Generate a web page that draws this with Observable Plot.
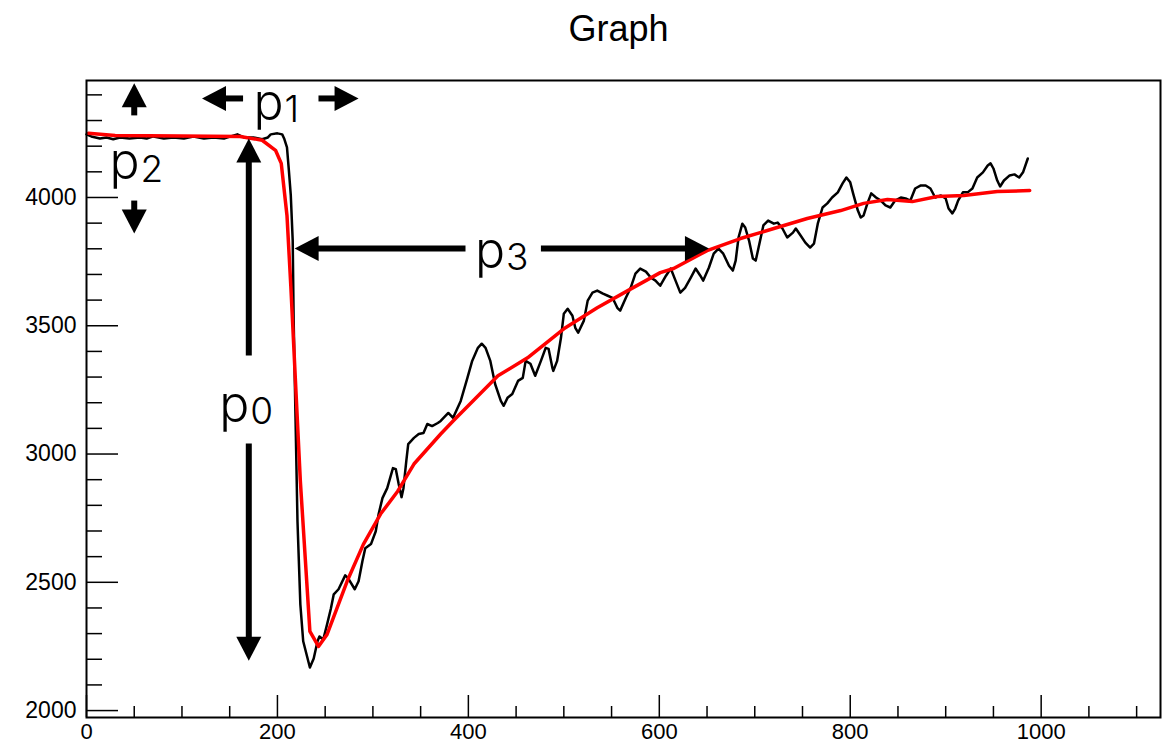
<!DOCTYPE html>
<html><head><meta charset="utf-8">
<script src="https://cdn.jsdelivr.net/npm/d3@7"></script>
<script src="https://cdn.jsdelivr.net/npm/@observablehq/plot@0.6"></script>
<style>
body{margin:0;background:#fff;}
#title{height:60px;box-sizing:border-box;padding-top:11px;padding-left:72px;width:1165px;text-align:center;font:36px/36px "Liberation Sans",Arial,sans-serif;color:#000;}
</style></head><body>
<div id="title">Graph</div>
<div id="chart"></div>
<script>
// Waveform (black) samples
const waveX = [0,5,14,21,28,35,45,56,63,70,81,91,102,112,123,133,144,151,158,165,175,184,190,193,200,205,207,210,212,214,216,217,219,221,224,227,234,238,242,244,248,252,256,259,264,271,274,281,285,289,292,298,303,306,310,315,321,324,327,330,332,335,337,343,348,353,357,362,368,371,379,384,392,399,404,410,414,418,423,428,434,437,441,446,452,457,460,465,470,476,481,484,488,489,493,497,500,504,509,512,515,521,525,530,535,541,546,551,556,559,565,570,575,580,586,591,596,601,607,612,617,622,627,633,638,643,646,652,657,662,667,673,677,680,683,687,690,694,698,701,704,709,714,720,724,729,734,740,743,748,753,758,762,766,771,776,781,787,792,796,800,803,808,811,814,818,822,827,832,837,842,847,853,858,863,868,874,879,884,889,895,900,903,907,910,913,918,923,928,933,939,944,947,950,954,957,961,967,972,977,981,986];
const waveY = [4246,4238,4230,4234,4227,4234,4230,4234,4230,4238,4230,4234,4230,4238,4230,4234,4230,4238,4246,4234,4234,4227,4234,4246,4250,4246,4230,4195,4105,4008,3832,3520,3129,2738,2414,2270,2168,2203,2270,2289,2277,2336,2398,2453,2473,2527,2516,2473,2504,2582,2633,2649,2699,2766,2828,2867,2945,2941,2883,2832,2867,2973,3039,3063,3078,3082,3117,3109,3121,3129,3160,3141,3207,3297,3363,3414,3430,3414,3363,3273,3207,3188,3219,3234,3285,3297,3363,3352,3305,3363,3414,3410,3336,3324,3363,3453,3547,3566,3539,3492,3473,3520,3598,3629,3637,3625,3617,3609,3570,3559,3609,3648,3703,3723,3711,3688,3676,3656,3695,3723,3676,3629,3648,3688,3723,3695,3676,3727,3781,3801,3781,3734,3715,3754,3844,3898,3883,3832,3762,3754,3805,3891,3910,3898,3902,3879,3844,3863,3879,3852,3824,3805,3820,3898,3961,3977,4000,4020,4055,4078,4059,4016,3949,3922,3930,3977,4016,4000,3988,3969,3961,3988,4000,3996,3988,4035,4047,4047,4035,4000,4008,3996,3957,3938,3957,3988,4020,4020,4035,4078,4098,4125,4133,4113,4066,4043,4066,4086,4090,4078,4098,4152];
// Fit (red) samples
const fitX = [2,30,100,161,184,198,204,210,214,224,234,243,252,273,290,308,326,343,371,384,431,462,500,535,567,601,615,650,685,720,755,790,814,839,865,891,919,954,988];
const fitY = [4250,4242,4240,4238,4223,4184,4133,3930,3656,2895,2309,2250,2297,2504,2648,2766,2855,2961,3078,3129,3305,3375,3488,3570,3637,3707,3723,3793,3840,3879,3918,3949,3977,3992,3984,4004,4008,4023,4027];
// Axis ticks
const xMajorTicks = [0,200,400,600,800,1000];
const xMinorTicks = [50,100,150,250,300,350,450,500,550,650,700,750,850,900,950,1050,1100];
const yMajorTicks = [2000,2500,3000,3500,4000];
const yMinorTicks = [2100,2200,2300,2400,2600,2700,2800,2900,3100,3200,3300,3400,3600,3700,3800,3900,4100,4200,4300,4400];
// Annotation arrows (shafts and heads) and parameter labels
const shafts = [
  {x1:50,y1:4320,x2:50,y2:4380},
  {x1:50,y1:3988,x2:50,y2:3920},
  {x1:164,y1:4386,x2:135,y2:4386},
  {x1:243,y1:4386,x2:270,y2:4386},
  {x1:170,y1:3384,x2:170,y2:4150},
  {x1:170,y1:3041,x2:170,y2:2280},
  {x1:397,y1:3801,x2:235,y2:3801},
  {x1:476,y1:3801,x2:635,y2:3801}
];
const heads = [
  {x:50,y:4445,dir:0},
  {x:50,y:3860,dir:180},
  {x:121,y:4386,dir:-90},
  {x:285,y:4386,dir:90},
  {x:170,y:4230,dir:0},
  {x:170,y:2194,dir:180},
  {x:218,y:3801,dir:-90},
  {x:652,y:3801,dir:90}
];
const labels = [
  {x:175,y:4370,sub:"1"},
  {x:24,y:4137,sub:"2"},
  {x:407,y:3793,sub:"3"},
  {x:139,y:3193,sub:"0"}
];

const wave = waveX.map((x,i)=>({x, y: waveY[i]}));
const fit = fitX.map((x,i)=>({x, y: fitY[i]}));

const headSymbol = {draw(ctx, size){
  const r = Math.sqrt(size/Math.PI);
  ctx.moveTo(0,0); ctx.lineTo(r, 1.92*r); ctx.lineTo(-r, 1.92*r); ctx.closePath();
}};

const W = 1165, H = 684, mT = 20, mB = 27, mL = 86, mR = 5;
const fh = H - mT - mB, fw = W - mL - mR;
const labelFont = 'Inter, Roboto, Lato, "Liberation Sans", sans-serif';

const chart = Plot.plot({
  width: W, height: H,
  marginTop: mT, marginBottom: mB, marginLeft: mL, marginRight: mR,
  x: {domain: [0, 1125]},
  y: {domain: [1973, 4456]},
  style: {fontFamily: '"Liberation Sans", Arial, sans-serif', fontSize: "23px", color: "#000", background: "#fff", overflow: "visible"},
  marks: [
    Plot.ruleX(xMajorTicks, {x: d=>d, insetTop: fh-22, stroke: "#000", strokeWidth: 1.5}),
    Plot.ruleX(xMinorTicks, {x: d=>d, insetTop: fh-11, stroke: "#000", strokeWidth: 1.5}),
    Plot.ruleY(yMajorTicks, {y: d=>d, insetRight: fw-32, stroke: "#000", strokeWidth: 1.5}),
    Plot.ruleY(yMinorTicks, {y: d=>d, insetRight: fw-16, stroke: "#000", strokeWidth: 1.5}),
    Plot.axisX({ticks: xMajorTicks, tickSize: 0, tickPadding: 6, tickFormat: d=>String(d), label: null, fontSize: 22}),
    Plot.axisY({ticks: yMajorTicks, tickSize: 0, tickPadding: 10, tickFormat: d=>String(d), label: null}),
    Plot.line(wave, {x: "x", y: "y", stroke: "#000", strokeWidth: 2.5}),
    Plot.line(fit, {x: "x", y: "y", stroke: "#ff0000", strokeWidth: 3.5}),
    Plot.link(shafts, {x1: "x1", y1: "y1", x2: "x2", y2: "y2", stroke: "#000", strokeWidth: 6}),
    Plot.dot(heads, {x: "x", y: "y", rotate: "dir", symbol: headSymbol, r: 12.5, fill: "#000", stroke: "none"}),
    Plot.text(labels, {x: "x", y: "y", text: ()=>"p", textAnchor: "start", lineAnchor: "middle", fontSize: 50, fontFamily: labelFont, fontWeight: 300}),
    Plot.text(labels, {x: "x", y: "y", text: "sub", textAnchor: "start", lineAnchor: "middle", dx: 31, dy: 8, fontSize: 37, fontFamily: labelFont, fontWeight: 300}),
    Plot.frame({stroke: "#000", strokeWidth: 2})
  ]
});
document.getElementById("chart").appendChild(chart);
</script>
</body></html>
